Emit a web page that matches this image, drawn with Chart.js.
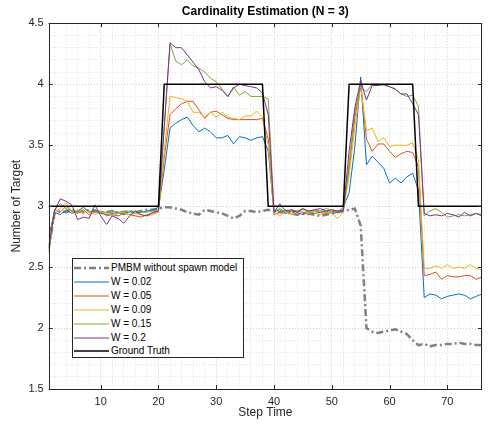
<!DOCTYPE html>
<html>
<head>
<meta charset="utf-8">
<script src="https://cdn.jsdelivr.net/npm/chart.js@4.4.1/dist/chart.umd.min.js"></script>
<style>
  html, body { margin: 0; padding: 0; background: #fff; }
  #wrap { position: relative; width: 488px; height: 427px; }
  #legend {
    position: absolute; left: 72px; top: 258px; width: 170px; height: 98px;
    border: 1px solid #262626; background: #fff;
    font-family: 'Liberation Sans', Arial, sans-serif; font-size: 10px; color: #000;
  }
  .row { position: absolute; left: 0; height: 14px; line-height: 14px; white-space: nowrap; }
  .row svg { position: absolute; left: 1px; top: 0; }
  .row span { position: absolute; left: 38px; top: 0; }
</style>
</head>
<body>
<div id="wrap">
  <canvas id="chart" width="488" height="427"></canvas>
  <div id="legend"></div>
</div>
<script>
// шаги по времени
const steps = [
  1, 2, 3, 4, 5, 6, 7, 8, 9, 10, 11, 12, 13, 14, 15, 16, 17, 18, 19, 20,
  21, 22, 23, 24, 25, 26, 27, 28, 29, 30, 31, 32, 33, 34, 35, 36, 37, 38, 39, 40,
  41, 42, 43, 44, 45, 46, 47, 48, 49, 50, 51, 52, 53, 54, 55, 56, 57, 58, 59, 60,
  61, 62, 63, 64, 65, 66, 67, 68, 69, 70, 71, 72, 73, 74, 75, 76
];

const pmbmNoSpawn = [
  2.65, 2.94, 2.96, 2.95, 2.97, 2.96, 2.95, 2.97, 2.96, 2.95, 2.95, 2.96, 2.94, 2.95, 2.96, 2.95, 2.96, 2.97, 2.97, 2.98,
  2.99, 2.99, 2.98, 2.97, 2.95, 2.94, 2.93, 2.97, 2.96, 2.95, 2.94, 2.92, 2.90, 2.92, 2.96, 2.96, 2.95, 2.96, 2.97, 2.96,
  2.95, 2.95, 2.94, 2.93, 2.94, 2.94, 2.93, 2.92, 2.93, 2.94, 2.95, 2.96, 2.97, 2.98, 2.84, 2.00, 1.97, 1.96, 1.97, 1.98,
  1.99, 1.97, 1.95, 1.90, 1.86, 1.87, 1.85, 1.86, 1.86, 1.87, 1.87, 1.88, 1.87, 1.87, 1.86, 1.86
];

const w002 = [
  2.75, 2.95, 2.93, 2.97, 2.94, 2.96, 2.99, 2.95, 2.97, 2.94, 2.93, 2.94, 2.95, 2.93, 2.96, 2.94, 2.95, 2.96, 2.97, 2.99,
  3.30, 3.64, 3.68, 3.71, 3.73, 3.66, 3.61, 3.64, 3.61, 3.56, 3.56, 3.58, 3.51, 3.57, 3.56, 3.54, 3.56, 3.57, 3.45, 2.95,
  2.97, 2.94, 2.96, 2.95, 2.93, 2.96, 2.94, 2.95, 2.96, 2.94, 2.95, 2.99, 3.11, 3.49, 4.06, 3.34, 3.41, 3.36, 3.31, 3.19,
  3.23, 3.19, 3.24, 3.27, 3.13, 2.25, 2.28, 2.27, 2.24, 2.26, 2.27, 2.28, 2.27, 2.24, 2.26, 2.28
];

const w005 = [
  2.62, 2.97, 2.95, 3.00, 2.96, 2.94, 2.97, 2.93, 2.95, 2.96, 2.92, 2.93, 2.92, 2.94, 2.93, 2.92, 2.91, 2.93, 2.94, 2.96,
  3.40, 3.75, 3.80, 3.84, 3.86, 3.86, 3.79, 3.72, 3.77, 3.78, 3.75, 3.72, 3.71, 3.71, 3.71, 3.71, 3.71, 3.72, 3.55, 2.93,
  2.95, 2.97, 2.94, 2.96, 2.95, 2.93, 2.96, 2.95, 2.94, 2.96, 2.95, 2.97, 3.30, 3.73, 4.00, 3.55, 3.45, 3.51, 3.51, 3.45,
  3.40, 3.43, 3.45, 3.44, 3.32, 2.43, 2.44, 2.46, 2.40, 2.43, 2.42, 2.42, 2.43, 2.43, 2.40, 2.42
];

const w009 = [
  2.68, 2.96, 2.98, 3.03, 2.95, 2.97, 2.94, 2.96, 2.93, 2.95, 2.94, 2.92, 2.94, 2.95, 2.93, 2.94, 2.93, 2.92, 2.93, 2.95,
  3.45, 3.90, 3.89, 3.88, 3.86, 3.77, 3.77, 3.73, 3.77, 3.73, 3.77, 3.73, 3.72, 3.71, 3.74, 3.74, 3.78, 3.73, 3.50, 2.95,
  2.92, 2.96, 2.93, 2.95, 2.97, 2.94, 2.96, 2.93, 2.95, 2.94, 2.90, 2.95, 3.25, 3.65, 3.98, 3.62, 3.64, 3.53, 3.56, 3.49,
  3.50, 3.50, 3.50, 3.52, 3.38, 2.49, 2.49, 2.51, 2.49, 2.52, 2.49, 2.50, 2.49, 2.52, 2.49, 2.48
];

const w015 = [
  2.63, 2.97, 3.02, 2.98, 2.96, 2.95, 2.99, 2.95, 2.96, 2.95, 2.95, 2.96, 2.95, 2.96, 2.95, 2.96, 2.95, 2.95, 2.96, 2.97,
  3.65, 4.33, 4.19, 4.16, 4.20, 4.15, 4.13, 4.10, 4.05, 4.02, 3.96, 3.90, 3.98, 3.91, 3.94, 3.90, 3.90, 3.90, 3.88, 2.96,
  2.98, 2.95, 2.97, 2.96, 2.98, 2.95, 2.97, 2.96, 2.98, 2.97, 2.96, 2.97, 3.35, 3.78, 3.97, 3.94, 4.00, 4.00, 3.99, 3.98,
  3.96, 3.92, 3.90, 3.91, 3.82, 2.92, 2.96, 2.98, 2.95, 2.91, 2.92, 2.93, 2.92, 2.93, 2.94, 2.93
];

const w02 = [
  2.66, 2.96, 3.06, 3.04, 3.01, 2.89, 2.91, 2.90, 3.01, 2.92, 2.85, 2.92, 2.90, 2.86, 2.92, 2.96, 2.93, 2.92, 2.95, 2.96,
  3.65, 4.34, 4.30, 4.30, 4.24, 4.18, 4.12, 4.02, 3.97, 3.98, 3.95, 3.90, 3.97, 4.00, 3.99, 3.98, 3.97, 3.93, 3.75, 2.95,
  3.02, 2.96, 2.97, 2.95, 2.98, 2.96, 2.97, 2.98, 2.96, 2.97, 2.96, 2.96, 3.45, 3.81, 4.03, 3.87, 3.99, 3.99, 4.00, 3.98,
  3.96, 3.92, 3.92, 3.84, 3.75, 2.94, 2.92, 2.93, 2.92, 2.94, 2.93, 2.91, 2.95, 2.92, 2.94, 2.92
];

const groundTruth = [
  3, 3, 3, 3, 3, 3, 3, 3, 3, 3, 3, 3, 3, 3, 3, 3, 3, 3, 3, 3,
  4, 4, 4, 4, 4, 4, 4, 4, 4, 4, 4, 4, 4, 4, 4, 4, 4, 4, 3, 3,
  3, 3, 3, 3, 3, 3, 3, 3, 3, 3, 3, 3, 4, 4, 4, 4, 4, 4, 4, 4,
  4, 4, 4, 4, 3, 3, 3, 3, 3, 3, 3, 3, 3, 3, 3, 3
];

const seriesNames = ['PMBM without spawn model', 'W = 0.02', 'W = 0.05', 'W = 0.09', 'W = 0.15', 'W = 0.2', 'Ground Truth'];
const seriesValues = [pmbmNoSpawn, w002, w005, w009, w015, w02, groundTruth];
const seriesColors = ['#808080', '#0072BD', '#D95319', '#EDB120', '#77AC30', '#7E2F8E', '#000000'];
const seriesWidths = [2.5, 1, 1, 1, 1, 1, 1.5];
const seriesDashes = [[7, 3, 2, 3], [], [], [], [], [], []];

const FONT = "'Liberation Sans', Arial, sans-serif";

// сетка: мелкие деления
const xGrid = [];
for (let v = 2; v <= 76; v += 2) xGrid.push(v);
const yGrid = [];
for (let k = 15; k <= 45; k++) yGrid.push(k / 10);

const isMajorX = v => v % 10 === 0;
const isMajorY = v => Math.abs(v * 2 - Math.round(v * 2)) < 1e-6;

// рамка и внутренние засечки как в MATLAB
const framePlugin = {
  id: 'frame',
  afterDraw(chart) {
    const { ctx, chartArea: a, scales } = chart;
    ctx.save();
    ctx.strokeStyle = '#262626';
    ctx.lineWidth = 1;
    ctx.setLineDash([]);
    ctx.beginPath();
    xGrid.filter(isMajorX).forEach(v => {
      const px = Math.round(scales.x.getPixelForValue(v)) + 0.5;
      ctx.moveTo(px, a.bottom); ctx.lineTo(px, a.bottom - 4);
      ctx.moveTo(px, a.top); ctx.lineTo(px, a.top + 4);
    });
    yGrid.filter(isMajorY).forEach(v => {
      const py = Math.round(scales.y.getPixelForValue(v)) + 0.5;
      ctx.moveTo(a.left, py); ctx.lineTo(a.left + 4, py);
      ctx.moveTo(a.right, py); ctx.lineTo(a.right - 4, py);
    });
    ctx.stroke();
    ctx.strokeRect(Math.round(a.left) + 0.5, Math.round(a.top) + 0.5,
      Math.round(a.right - a.left) - 1, Math.round(a.bottom - a.top));
    ctx.restore();
  }
};

const datasets = seriesNames.map((name, i) => ({
  label: name,
  data: seriesValues[i].map((v, j) => ({ x: steps[j], y: v })),
  borderColor: seriesColors[i],
  backgroundColor: seriesColors[i],
  borderWidth: seriesWidths[i],
  borderDash: seriesDashes[i],
  pointRadius: 0,
  tension: 0,
  fill: false,
  order: 10 - i
}));

new Chart(document.getElementById('chart').getContext('2d'), {
  type: 'line',
  data: { datasets: datasets },
  options: {
    responsive: false,
    animation: false,
    layout: { padding: { left: 0, right: 1, top: 0, bottom: 0 } },
    plugins: {
      legend: { display: false },
      tooltip: { enabled: false },
      title: {
        display: true,
        text: 'Cardinality Estimation (N = 3)',
        fullSize: false,
        color: '#000',
        font: { family: FONT, size: 12, weight: 'bold' },
        padding: { top: 4.8, bottom: 4.1 }
      }
    },
    scales: {
      x: {
        type: 'linear',
        min: 1,
        max: 76,
        afterBuildTicks: s => { s.ticks = xGrid.map(v => ({ value: v })); },
        afterFit: s => { s.height = 38; },
        ticks: {
          autoSkip: false,
          maxRotation: 0,
          padding: 6,
          color: '#262626',
          font: { family: FONT, size: 11 },
          callback: v => isMajorX(v) ? String(v) : ''
        },
        grid: {
          drawTicks: false,
          color: c => isMajorX(c.tick.value) ? '#cfcfcf' : '#e2e2e2'
        },
        border: { display: false, dash: [1, 2] },
        title: {
          display: true,
          text: 'Step Time',
          color: '#262626',
          font: { family: FONT, size: 12 },
          padding: { top: 0, bottom: 7 }
        }
      },
      y: {
        type: 'linear',
        min: 1.5,
        max: 4.5,
        afterBuildTicks: s => { s.ticks = yGrid.map(v => ({ value: v })); },
        afterFit: s => { s.width = 48.7; },
        ticks: {
          autoSkip: false,
          padding: 5,
          color: '#262626',
          font: { family: FONT, size: 11 },
          callback: v => isMajorY(v) ? String(Math.round(v * 10) / 10) : ''
        },
        grid: {
          drawTicks: false,
          color: c => isMajorY(c.tick.value) ? '#cfcfcf' : '#e2e2e2'
        },
        border: { display: false, dash: [1, 2] },
        title: {
          display: true,
          text: 'Number of Target',
          color: '#262626',
          font: { family: FONT, size: 12 },
          padding: { top: 9.8, bottom: 0 }
        }
      }
    }
  },
  plugins: [framePlugin]
});

// легенда внутри области графика
const legend = document.getElementById('legend');
seriesNames.forEach((name, i) => {
  const row = document.createElement('div');
  row.className = 'row';
  row.style.top = (2.3 + i * 13.85) + 'px';
  const dash = seriesDashes[i].length ? `stroke-dasharray="${seriesDashes[i].join(' ')}"` : '';
  row.innerHTML = `
    <svg width="36" height="14"><line x1="0" y1="7" x2="35" y2="7" stroke="${seriesColors[i]}"
      stroke-width="${seriesWidths[i]}" ${dash}/></svg>
    <span>${name}</span>`;
  legend.appendChild(row);
});
</script>
</body>
</html>
